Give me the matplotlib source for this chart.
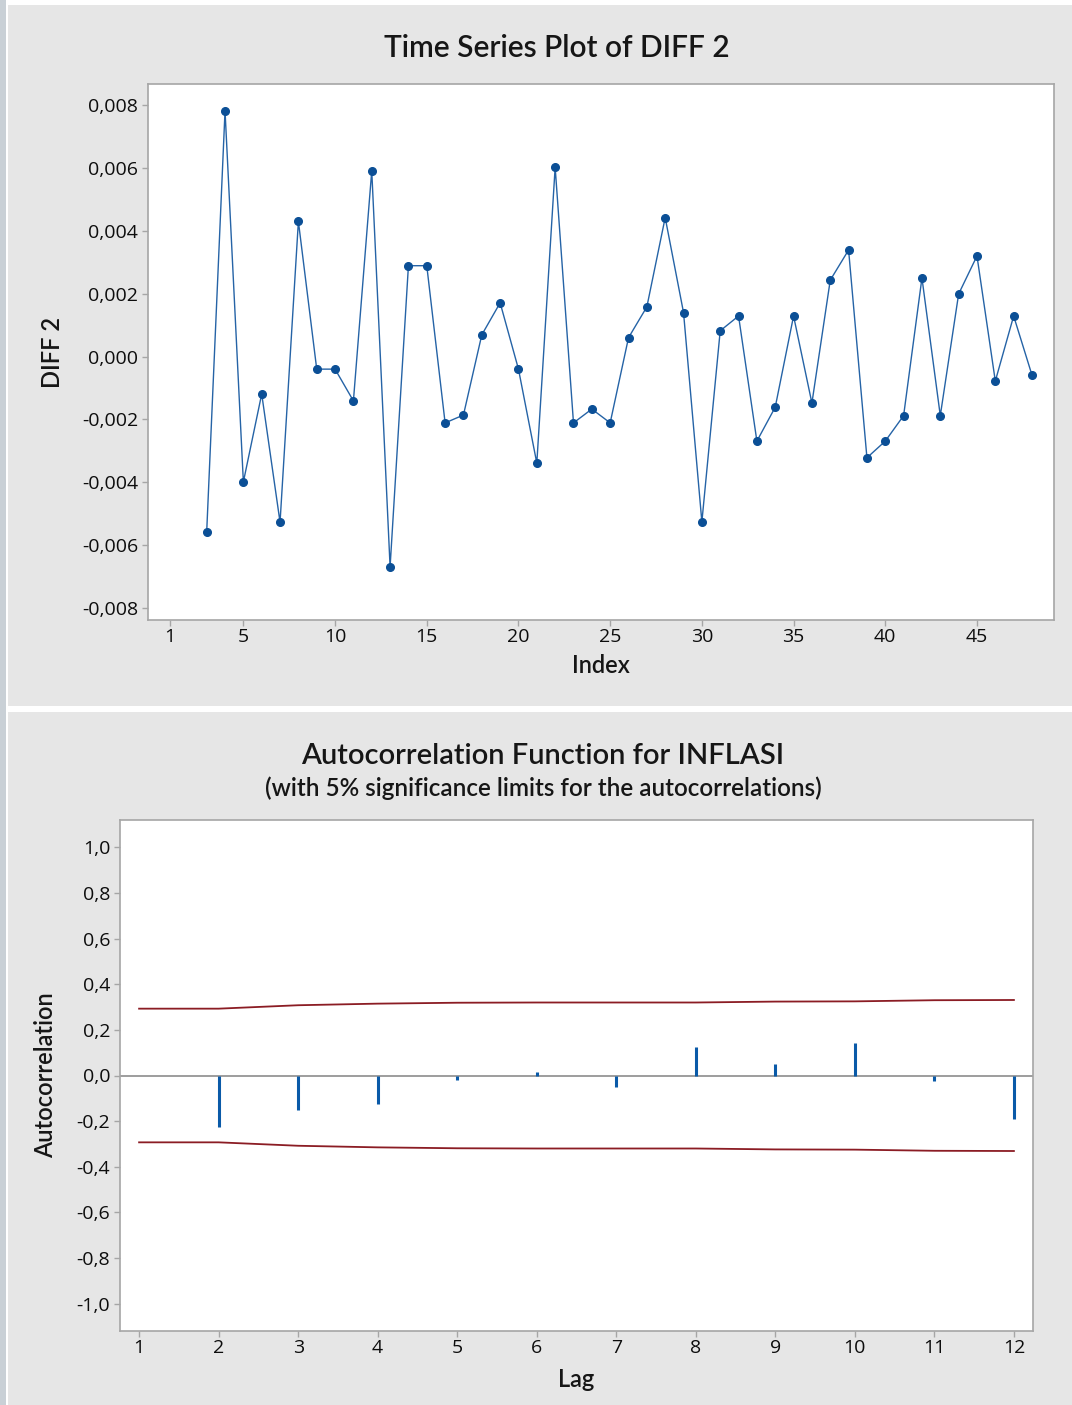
import matplotlib.pyplot as plt
import numpy as np
from matplotlib.patches import Rectangle
from matplotlib.ticker import FuncFormatter

# --- data ---
index = list(range(3, 49))
diff2 = [-0.00558, 0.00782, -0.00399, -0.00119, -0.00527, 0.00430, -0.00040, -0.00040,
         -0.00141, 0.00591, -0.00669, 0.00289, 0.00289, -0.00211, -0.00186, 0.00069,
         0.00171, -0.00040, -0.00339, 0.00602, -0.00211, -0.00167, -0.00211, 0.00060,
         0.00158, 0.00442, 0.00140, -0.00526, 0.00082, 0.00129, -0.00269, -0.00161,
         0.00129, -0.00148, 0.00243, 0.00339, -0.00322, -0.00269, -0.00188, 0.00250,
         -0.00188, 0.00199, 0.00320, -0.00078, 0.00129, -0.00059]

lags = list(range(1, 13))
acf = [0.0, -0.225, -0.150, -0.124, -0.019, 0.017, -0.051, 0.125, 0.051, 0.144, -0.023, -0.192]
limit = [0.293, 0.293, 0.308, 0.315, 0.319, 0.320, 0.320, 0.320, 0.324, 0.325, 0.330, 0.331]

ts_xticks = [1, 5, 10, 15, 20, 25, 30, 35, 40, 45]
ts_yticks = [-0.008, -0.006, -0.004, -0.002, 0.0, 0.002, 0.004, 0.006, 0.008]
acf_yticks = [-1.0, -0.8, -0.6, -0.4, -0.2, 0.0, 0.2, 0.4, 0.6, 0.8, 1.0]

plt.rcParams['font.family'] = ['Open Sans', 'DejaVu Sans']
HEAD = ['Lato', 'Open Sans', 'DejaVu Sans']
TXT = '#161616'

W, H = 1072, 1405
fig = plt.figure(figsize=(W / 100, H / 100), dpi=100, facecolor='white')

def px_rect(x0, y0, x1, y1, color):
    fig.patches.append(Rectangle((x0 / W, 1 - y1 / H), (x1 - x0) / W, (y1 - y0) / H,
                                 transform=fig.transFigure, facecolor=color,
                                 edgecolor='none', zorder=-10))

px_rect(0, 0, 6, H, '#c9d0d6')
px_rect(8, 5, W, 706, '#e6e6e6')
px_rect(8, 712, W, H, '#e6e6e6')

def comma(fmt):
    def f(v, p):
        if abs(v) < 1e-9:
            v = 0.0
        return (fmt % v).replace('.', ',')
    return FuncFormatter(f)

def style(ax):
    for s in ax.spines.values():
        s.set_color('#a6a6a6')
        s.set_linewidth(1.2)
    ax.tick_params(axis='both', colors='#a6a6a6', labelcolor='#0d0d0d', labelsize=14,
                   length=4, width=1, direction='out')
    ax.tick_params(axis='x', pad=1.5)
    ax.tick_params(axis='y', pad=3)
    ax.set_facecolor('white')

# --- time series plot ---
ax1 = fig.add_axes([148 / W, 1 - 620 / H, 906 / W, 536 / H])
ax1.plot(index, diff2, color='#2563a6', linewidth=1.0, marker='o', markersize=5.5,
         markerfacecolor='#0b4f96', markeredgecolor='#0b4f96')
ax1.set_xlim(-0.2, 49.2)
ax1.set_ylim(-0.00838, 0.00867)
ax1.set_xticks(ts_xticks)
ax1.set_yticks(ts_yticks)
ax1.yaxis.set_major_formatter(comma('%.3f'))
style(ax1)
ax1.set_xlabel('Index', family=HEAD, fontsize=17, fontweight='semibold', color=TXT, labelpad=6)
ax1.set_ylabel('DIFF 2', family=HEAD, fontsize=17, fontweight='semibold', color=TXT, labelpad=13)
fig.text(557 / W, 1 - 48 / H, 'Time Series Plot of DIFF 2', family=HEAD, ha='center', va='center',
         fontsize=21.5, fontweight='semibold', color=TXT)

# --- ACF plot ---
ax2 = fig.add_axes([120 / W, 1 - 1331 / H, 913 / W, 511 / H])
ax2.axhline(0, color='#8c8c8c', linewidth=1.2, zorder=1)
ax2.vlines(lags, 0, acf, color='#0a5aa8', linewidth=2.2, zorder=2)
ax2.plot(lags, limit, color='#8b1c24', linewidth=1.3)
ax2.plot(lags, [-v for v in limit], color='#8b1c24', linewidth=1.3)
ax2.set_xlim(0.76, 12.24)
ax2.set_ylim(-1.12, 1.12)
ax2.set_xticks(lags)
ax2.set_yticks(acf_yticks)
ax2.yaxis.set_major_formatter(comma('%.1f'))
style(ax2)
ax2.set_xlabel('Lag', family=HEAD, fontsize=17, fontweight='semibold', color=TXT, labelpad=8)
ax2.set_ylabel('Autocorrelation', family=HEAD, fontsize=17, fontweight='semibold', color=TXT, labelpad=14)
fig.text(543 / W, 1 - 756 / H, 'Autocorrelation Function for INFLASI', family=HEAD, ha='center',
         va='center', fontsize=21, fontweight='semibold', color=TXT)
fig.text(543 / W, 1 - 788 / H, '(with 5% significance limits for the autocorrelations)', family=HEAD,
         ha='center', va='center', fontsize=17.5, fontweight='semibold', color=TXT)

fig.savefig('out.png', dpi=100, facecolor='white')
